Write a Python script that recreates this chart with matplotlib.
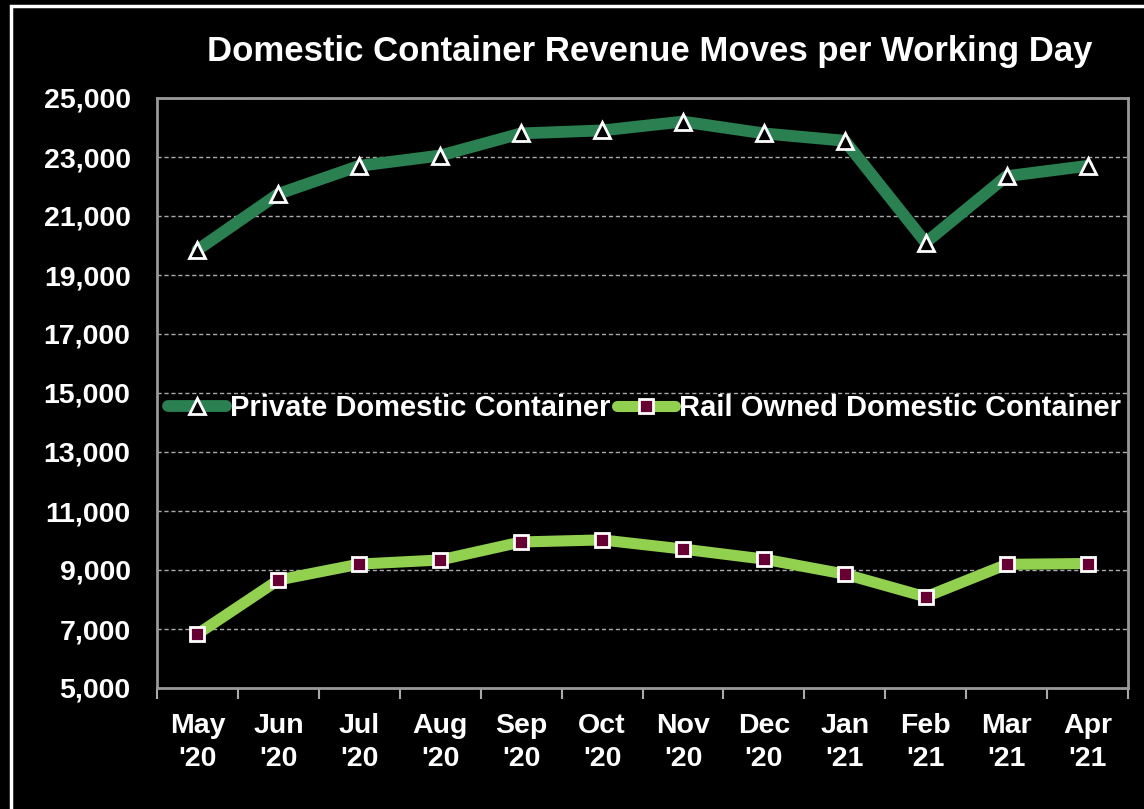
import matplotlib
matplotlib.use("Agg")
import matplotlib.pyplot as plt
from matplotlib.patches import Rectangle
import numpy as np

months = ["May\n'20", "Jun\n'20", "Jul\n'20", "Aug\n'20", "Sep\n'20", "Oct\n'20",
          "Nov\n'20", "Dec\n'20", "Jan\n'21", "Feb\n'21", "Mar\n'21", "Apr\n'21"]
private = [19850, 21750, 22700, 23050, 23800, 23900, 24200, 23800, 23550, 20100, 22350, 22700]
rail = [6830, 8660, 9200, 9340, 9950, 10020, 9710, 9370, 8860, 8090, 9190, 9220]
yticks = [5000, 7000, 9000, 11000, 13000, 15000, 17000, 19000, 21000, 23000, 25000]

plt.rcParams['font.family'] = ['Liberation Sans', 'DejaVu Sans']
fig = plt.figure(figsize=(11.44, 8.09), dpi=100, facecolor='black')
fig.patches.append(Rectangle((11/1144, -0.1), 1.2, 1 - 6/809 + 0.1, transform=fig.transFigure,
                             fill=False, edgecolor='white', linewidth=2.5))
ax = fig.add_axes([157/1144, 1 - 688/809, (1128 - 157)/1144, (688 - 98)/809])
ax.set_facecolor('black')

x = np.arange(len(months))
ax.plot(x, private, color='#2a8050', linewidth=8.5, marker='^', markersize=12,
        markerfacecolor='black', markeredgecolor='white', markeredgewidth=2,
        label='Private Domestic Container', zorder=3, solid_capstyle='round')
ax.plot(x, rail, color='#92d050', linewidth=8, marker='s', markersize=10,
        markerfacecolor='#660033', markeredgecolor='white', markeredgewidth=2,
        label='Rail Owned Domestic Container', zorder=3, solid_capstyle='round')

ax.set_xlim(-0.5, len(months) - 0.5)
ax.set_ylim(5000, 25000)
ax.set_yticks(yticks)
ax.set_yticklabels([f"{v:,}" for v in yticks], fontsize=20.5, fontweight='bold', color='white')
ax.set_xticks(x)
ax.set_xticklabels(months, fontsize=20.5, fontweight='bold', color='white', linespacing=1.37)
ax.set_xticks(np.arange(-0.5, len(months), 1), minor=True)
ax.tick_params(axis='x', which='major', length=0, pad=18)
ax.tick_params(axis='x', which='minor', length=8, width=1.5, color='#aaaaaa', direction='out')
ax.tick_params(axis='y', length=0, pad=19)
for s in ax.spines.values():
    s.set_color('#999999')
    s.set_linewidth(2)
ax.grid(axis='y', color='#aaaaaa', linestyle=(0, (3, 2)), linewidth=1)
ax.set_axisbelow(True)

leg = ax.legend(loc='center', bbox_to_anchor=(0.502, 0.475), ncol=2, frameon=False,
                prop={'weight': 'bold', 'size': 21}, labelcolor='white',
                handlelength=2.0, columnspacing=0.2, handletextpad=0.15)

fig.text(650/1144, 1 - 52/809, 'Domestic Container Revenue Moves per Working Day',
         ha='center', va='center', fontsize=25, fontweight='bold', color='white')

fig.savefig('out.png', dpi=100, facecolor='black')
